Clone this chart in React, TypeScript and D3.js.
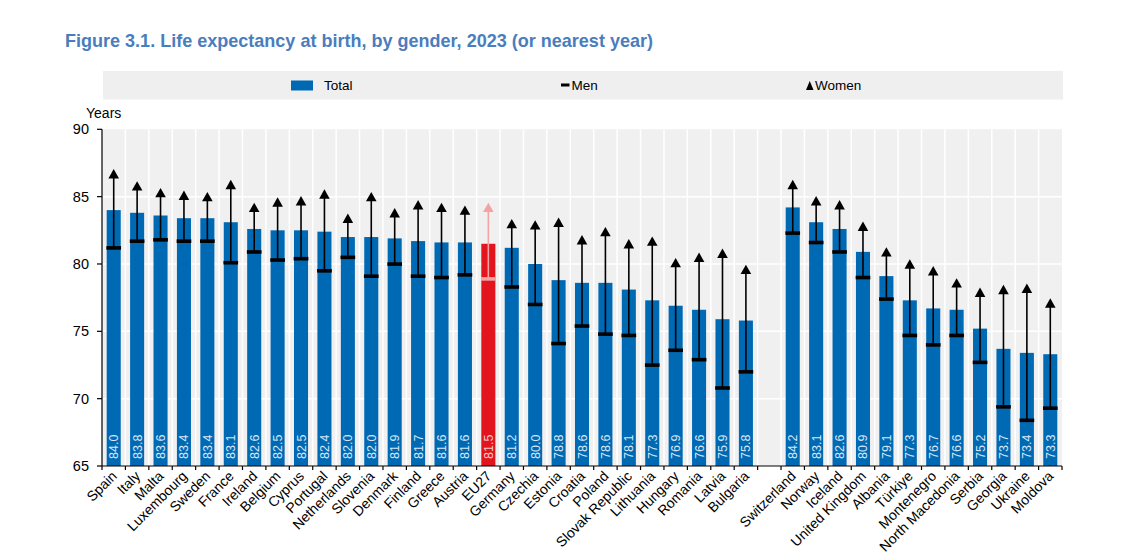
import React from "react";
import * as d3 from "d3";

const countries = [
  "Spain", "Italy", "Malta", "Luxembourg", "Sweden", "France", "Ireland", "Belgium", "Cyprus", "Portugal",
  "Netherlands", "Slovenia", "Denmark", "Finland", "Greece", "Austria", "EU27", "Germany", "Czechia", "Estonia",
  "Croatia", "Poland", "Slovak Republic", "Lithuania", "Hungary", "Romania", "Latvia", "Bulgaria", "",
  "Switzerland", "Norway", "Iceland", "United Kingdom", "Albania", "Türkiye", "Montenegro", "North Macedonia",
  "Serbia", "Georgia", "Ukraine", "Moldova",
];

const total: (number | null)[] = [
  84.0, 83.8, 83.6, 83.4, 83.4, 83.1, 82.6, 82.5, 82.5, 82.4,
  82.0, 82.0, 81.9, 81.7, 81.6, 81.6, 81.5, 81.2, 80.0, 78.8,
  78.6, 78.6, 78.1, 77.3, 76.9, 76.6, 75.9, 75.8, null,
  84.2, 83.1, 82.6, 80.9, 79.1, 77.3, 76.7, 76.6, 75.2, 73.7, 73.4, 73.3,
];

const men: (number | null)[] = [
  81.2, 81.7, 81.8, 81.7, 81.7, 80.1, 80.9, 80.3, 80.4, 79.5,
  80.5, 79.1, 80.0, 79.1, 79.0, 79.2, 78.9, 78.3, 77.0, 74.1,
  75.4, 74.8, 74.7, 72.5, 73.6, 72.9, 70.8, 72.0, null,
  82.3, 81.6, 80.9, 79.0, 77.4, 74.7, 74.0, 74.7, 72.7, 69.4, 68.4, 69.3,
];

const women: (number | null)[] = [
  86.7, 85.8, 85.3, 85.1, 85.0, 85.9, 84.2, 84.6, 84.7, 85.2,
  83.4, 85.0, 83.8, 84.4, 84.2, 84.0, 84.2, 83.0, 82.9, 83.1,
  81.8, 82.4, 81.5, 81.7, 80.1, 80.5, 80.8, 79.6, null,
  85.9, 84.7, 84.4, 82.8, 80.9, 80.0, 79.5, 78.6, 77.9, 78.1, 78.2, 77.1,
];

const yTicks = [65, 70, 75, 80, 85, 90];

const FONT = "'Liberation Sans Narrow', 'Arial Narrow', 'Liberation Sans', Arial, sans-serif";
const BLUE = "#0069b4";
const RED = "#e2141d";
const PINK = "#f3a3a3";

export default function App() {
  const W = 1146, H = 559;
  const left = 102, right = 1062, top = 129.3, bottom = 466;
  const keys = countries.map((c, i) => `${i}`);
  const x = d3.scaleBand<string>().domain(keys).range([left, right]).paddingInner(0.4).paddingOuter(0.2);
  const y = d3.scaleLinear().domain([65, 90]).range([bottom, top]);
  const step = x.step();
  const bw = x.bandwidth();
  const boundaries = d3.range(countries.length + 1).map((i) => left + i * step);

  return (
    <svg width={W} height={H} style={{ position: "absolute", left: 0, top: 0, background: "#fff" }} fontFamily={FONT}>
      <text x={65} y={47} fontSize={19} fontWeight="bold" fill="#4a7dbd" textLength={588} lengthAdjust="spacingAndGlyphs">
        Figure 3.1. Life expectancy at birth, by gender, 2023 (or nearest year)
      </text>

      {/* legend */}
      <rect x={103} y={71} width={960} height={28.5} fill="#efefef" />
      <rect x={291} y={80.5} width={22} height={10} fill={BLUE} />
      <text x={324} y={90} fontSize={13.5} fill="#000">Total</text>
      <rect x={561} y={83.5} width={8.5} height={3} fill="#000" />
      <text x={571.5} y={90} fontSize={13.5} fill="#000">Men</text>
      <path d={`M${806},${90} L${813.5},${90} L${809.75},${81} Z`} fill="#000" />
      <text x={815} y={90} fontSize={13.5} fill="#000">Women</text>

      {/* plot background */}
      <rect x={left} y={top} width={right - left} height={bottom - top} fill="#f0f0f0" />
      {yTicks.slice(1, -1).map((t) => (
        <line key={"g" + t} x1={left} x2={right} y1={y(t)} y2={y(t)} stroke="#fff" strokeWidth={1.5} />
      ))}
      {boundaries.slice(1, -1).map((b, i) => (
        <line key={"v" + i} x1={b} x2={b} y1={top} y2={bottom} stroke="#fff" strokeWidth={1.5} />
      ))}

      {/* bars */}
      {countries.map((c, i) => {
        const v = total[i];
        if (v == null) return null;
        const bx = x(`${i}`)!;
        return (
          <rect key={"b" + i} x={bx} y={y(v)} width={bw} height={bottom - y(v)} fill={c === "EU27" ? RED : BLUE} />
        );
      })}

      {/* value labels */}
      {countries.map((c, i) => {
        const v = total[i];
        if (v == null) return null;
        const cx = x(`${i}`)! + bw / 2;
        return (
          <text key={"vl" + i} transform={`translate(${cx + 4.5},${459}) rotate(-90)`} fontSize={12.5}
            fill={c === "EU27" ? "#f7c9c9" : "#d6e6f5"}>
            {v.toFixed(1)}
          </text>
        );
      })}

      {/* men/women markers */}
      {countries.map((c, i) => {
        const m = men[i], w = women[i];
        if (m == null || w == null) return null;
        const cx = x(`${i}`)! + bw / 2;
        const col = c === "EU27" ? PINK : "#000";
        const wy = y(w);
        return (
          <g key={"m" + i}>
            <line x1={cx} x2={cx} y1={y(m)} y2={wy} stroke={col} strokeWidth={1.6} />
            <path d={`M${cx - 5.3},${wy + 4.7} L${cx + 5.3},${wy + 4.7} L${cx},${wy - 4.7} Z`} fill={col} />
            <rect x={cx - bw / 2 - 0.3} y={y(m) - 1.7} width={bw + 0.6} height={3.6} fill={col} />
          </g>
        );
      })}

      {/* axes */}
      <line x1={left} x2={left} y1={top} y2={bottom} stroke="#000" strokeWidth={1.2} />
      {yTicks.map((t) => (
        <g key={"yt" + t}>
          <line x1={left - 5} x2={left} y1={y(t)} y2={y(t)} stroke="#000" strokeWidth={1.2} />
          <text x={89} y={y(t) + 5} fontSize={14.5} textAnchor="end" fill="#000">{t}</text>
        </g>
      ))}
      <text x={86} y={118} fontSize={14} fill="#000">Years</text>
      <line x1={left} x2={right} y1={bottom} y2={bottom} stroke="#000" strokeWidth={1.2} />
      {boundaries.map((b, i) => (
        <line key={"xt" + i} x1={b} x2={b} y1={bottom} y2={bottom + 4} stroke="#000" strokeWidth={1.2} />
      ))}

      {/* x labels */}
      {countries.map((c, i) => {
        if (!c) return null;
        const cx = x(`${i}`)! + bw / 2;
        return (
          <text key={"xl" + i} transform={`translate(${cx + 4},${477}) rotate(-45)`} textAnchor="end" fontSize={14} fill="#000">
            {c}
          </text>
        );
      })}
    </svg>
  );
}
